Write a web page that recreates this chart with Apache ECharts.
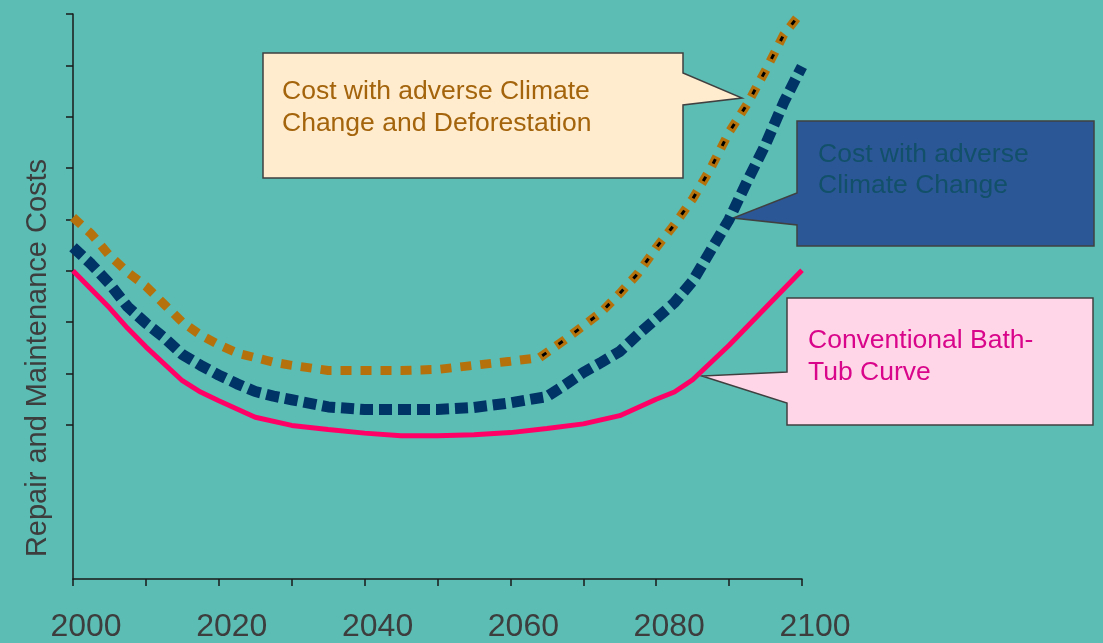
<!DOCTYPE html>
<html>
<head>
<meta charset="utf-8">
<script src="https://cdn.jsdelivr.net/npm/echarts@6/dist/echarts.min.js"></script>
<style>
  html, body { margin: 0; padding: 0; background: #5BBDB4; }
  #chart { width: 1103px; height: 643px; }
</style>
</head>
<body>
<div id="chart"></div>
<script>
// 数据
var bathTubYears = [2000, 2005, 2007.5, 2010, 2015, 2017.5, 2020, 2025, 2030, 2035, 2040, 2045, 2050, 2055, 2060, 2065, 2070, 2075, 2080, 2082.5, 2085, 2090, 2095, 2100];
var bathTubCost = [6.0, 5.28, 4.88, 4.52, 3.86, 3.64, 3.47, 3.15, 2.99, 2.91, 2.84, 2.79, 2.79, 2.81, 2.85, 2.93, 3.02, 3.18, 3.5, 3.64, 3.88, 4.55, 5.28, 6.01];

var climateYears = [2000, 2002.5, 2005, 2007.5, 2010, 2012.5, 2015, 2017.5, 2020, 2022.5, 2025, 2027.5, 2030, 2035, 2040, 2045, 2050, 2055, 2060, 2065, 2067.5, 2070, 2072.5, 2075, 2077.5, 2080, 2082.5, 2085, 2087.5, 2090, 2092.5, 2095, 2097.5, 2100];
var climateCost = [6.46, 6.13, 5.75, 5.3, 4.98, 4.7, 4.37, 4.16, 3.97, 3.8, 3.65, 3.56, 3.49, 3.35, 3.3, 3.3, 3.3, 3.34, 3.43, 3.55, 3.78, 4.02, 4.22, 4.43, 4.76, 5.07, 5.38, 5.8, 6.4, 7.0, 7.75, 8.46, 9.28, 9.98];

var deforestYears = [2000, 2002.5, 2005, 2007.5, 2010, 2012.5, 2015, 2017.5, 2020, 2022.5, 2025, 2027.5, 2030, 2035, 2040, 2045, 2050, 2055, 2060, 2064, 2067.5, 2070, 2072.5, 2075, 2077.5, 2080, 2082.5, 2085, 2087.5, 2090, 2092.5, 2095, 2097.5, 2100];
var deforestCost = [7.04, 6.72, 6.3, 5.97, 5.7, 5.35, 5.0, 4.75, 4.56, 4.4, 4.31, 4.22, 4.16, 4.06, 4.06, 4.06, 4.08, 4.16, 4.24, 4.31, 4.66, 4.93, 5.2, 5.56, 5.95, 6.45, 6.9, 7.4, 8.0, 8.7, 9.25, 9.9, 10.6, 11.05];

var yTickValues = [3, 4, 5, 6, 7, 8, 9, 10, 11];

function pairs(xs, ys) {
  var out = [];
  xs.forEach(function (x, i) { out.push([x, ys[i]]); });
  return out;
}

var font = 'Liberation Sans, Arial, sans-serif';
var chart = echarts.init(document.getElementById('chart'));

chart.setOption({
  backgroundColor: '#5BBDB4',
  animation: false,
  grid: { left: 73, right: 301, top: 14, bottom: 61 },
  xAxis: {
    type: 'value',
    min: 2000,
    max: 2100,
    interval: 10,
    splitLine: { show: false },
    axisLine: { lineStyle: { color: '#1a1a1a', width: 1.5 } },
    axisTick: { length: 7, lineStyle: { color: '#1a1a1a', width: 1.5 } },
    axisLabel: {
      margin: 32,
      fontSize: 32,
      fontFamily: font,
      color: '#3d3d3d',
      padding: [0, 0, 0, 26],
      formatter: function (v) { return v % 20 === 0 ? String(v) : ''; }
    }
  },
  yAxis: {
    type: 'value',
    min: 0,
    max: 11,
    interval: 1,
    splitLine: { show: false },
    axisLine: { lineStyle: { color: '#1a1a1a', width: 1.5 } },
    axisTick: { length: 7, customValues: yTickValues, lineStyle: { color: '#1a1a1a', width: 1.5 } },
    axisLabel: { show: false }
  },
  visualMap: {
    show: false,
    type: 'piecewise',
    dimension: 0,
    seriesIndex: 3,
    pieces: [{ gte: 2064, lte: 2100, color: '#000000' }],
    outOfRange: { color: 'rgba(0,0,0,0)' }
  },
  graphic: [
    {
      type: 'polygon', z: 0,
      shape: { points: [[263, 53], [683, 53], [683, 73], [742, 98], [683, 105], [683, 178], [263, 178]] },
      style: { fill: '#FFEBCD', stroke: '#404040', lineWidth: 1.5 }
    },
    {
      type: 'text', z: 0, x: 282, y: 76,
      style: { text: 'Cost with adverse Climate\nChange and Deforestation', font: '26.5px ' + font, lineHeight: 32, fill: '#A3640C' }
    },
    {
      type: 'polygon', z: 0,
      shape: { points: [[797, 121], [1094, 121], [1094, 246], [797, 246], [797, 225], [733, 218], [797, 193]] },
      style: { fill: '#2B5797', stroke: '#404040', lineWidth: 1.5 }
    },
    {
      type: 'text', z: 0, x: 818, y: 139,
      style: { text: 'Cost with adverse\nClimate Change', font: '26.5px ' + font, lineHeight: 31, fill: '#12506A' }
    },
    {
      type: 'polygon', z: 0,
      shape: { points: [[787, 298], [1093, 298], [1093, 425], [787, 425], [787, 403], [702, 376], [787, 372]] },
      style: { fill: '#FFD6E8', stroke: '#404040', lineWidth: 1.5 }
    },
    {
      type: 'text', z: 0, x: 808, y: 325,
      style: { text: 'Conventional Bath-\nTub Curve', font: '26.5px ' + font, lineHeight: 32, fill: '#D9058A' }
    },
    {
      type: 'text', z: 0, x: 38, y: 358, rotation: Math.PI / 2,
      style: { text: 'Repair and Maintenance Costs', font: '29px ' + font, fill: '#3d3d3d', align: 'center', verticalAlign: 'middle' }
    }
  ],
  series: [{
    name: 'Conventional Bath-Tub Curve',
    type: 'line',
    z: 3,
    showSymbol: false,
    data: pairs(bathTubYears, bathTubCost),
    lineStyle: { color: '#FF0066', width: 5 }
  }, {
    name: 'Cost with adverse Climate Change',
    type: 'line',
    z: 3,
    showSymbol: false,
    data: pairs(climateYears, climateCost),
    lineStyle: { color: '#003366', width: 11, type: [13, 6] }
  }, {
    name: 'Cost with adverse Climate Change and Deforestation',
    type: 'line',
    z: 3,
    clip: false,
    showSymbol: false,
    data: pairs(deforestYears, deforestCost),
    lineStyle: { color: '#B5720C', width: 9, type: [11, 9] }
  }, {
    // 黑色内芯
    name: 'core',
    type: 'line',
    z: 4,
    clip: false,
    showSymbol: false,
    data: pairs(deforestYears, deforestCost),
    lineStyle: { width: 3, type: [5, 15], dashOffset: -3 }
  }]
});
</script>
</body>
</html>
